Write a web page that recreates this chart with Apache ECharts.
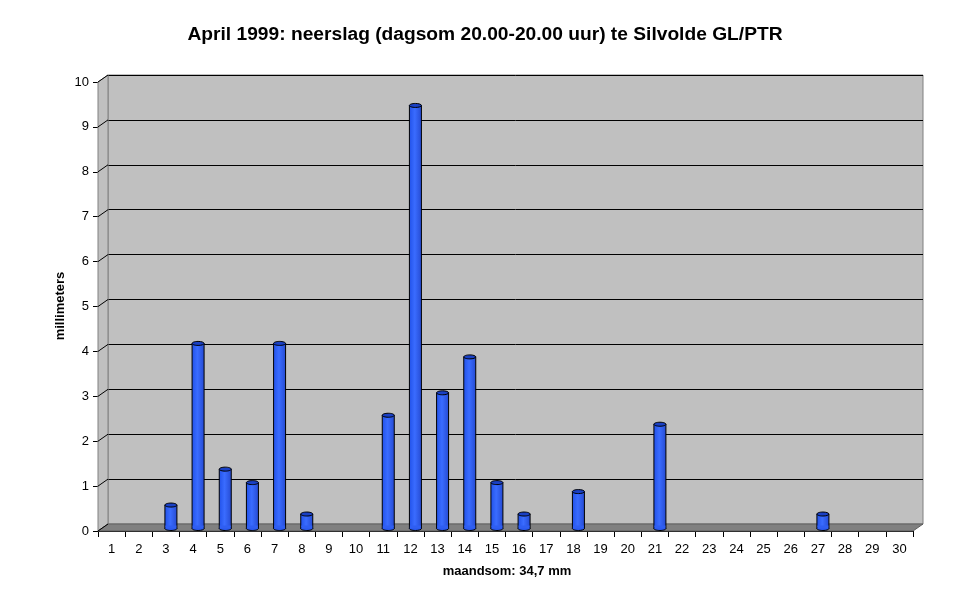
<!DOCTYPE html>
<html><head><meta charset="utf-8">
<script src="https://cdn.jsdelivr.net/npm/echarts@6/dist/echarts.min.js"></script>
<style>html,body{margin:0;padding:0;background:#fff}#c{width:970px;height:604px}</style>
</head><body><div id="c"></div>
<script>
const days = ['1','2','3','4','5','6','7','8','9','10','11','12','13','14','15','16','17','18','19','20','21','22','23','24','25','26','27','28','29','30'];
const rain = [0,0,0.5,4.1,1.3,1.0,4.1,0.3,0,0,2.5,9.4,3.0,3.8,1.0,0.3,0,0.8,0,0,2.3,0,0,0,0,0,0.3,0,0,0];
const yTicks = [0,1,2,3,4,5,6,7,8,9,10];
const titleText = 'April 1999: neerslag (dagsom 20.00-20.00 uur) te Silvolde GL/PTR';
const yName = 'millimeters';
const xName = 'maandsom: 34,7 mm';

const DX = 10, DY = 7;
const F = 'Liberation Sans, Arial, sans-serif';
const chart = echarts.init(document.getElementById('c'));
chart.setOption({
  animation: false,
  backgroundColor: '#fff',
  title: { text: titleText, left: 'center', top: 20, textStyle: { fontFamily: F, fontSize: 19.2, fontWeight: 'bold', color: '#000' } },
  graphic: [
    { type: 'polygon', z: 1, shape: { points: [[98,82],[108,75],[108,524],[98,531]] }, style: { fill: '#c0c0c0', stroke: '#808080', lineWidth: 1 } },
    { type: 'polygon', z: 1, shape: { points: [[98,531],[108,524],[923,524],[913,531]] }, style: { fill: '#808080', stroke: '#606060', lineWidth: 1 } },
    { type: 'text', rotation: Math.PI/2, x: 60, y: 306, style: { text: yName, font: 'bold 13px ' + F, fill: '#000', textAlign: 'center', textVerticalAlign: 'middle' } },
    { type: 'text', x: 507, y: 571, style: { text: xName, font: 'bold 13px ' + F, fill: '#000', textAlign: 'center', textVerticalAlign: 'middle' } }
  ],
  grid: [
    { left: 98, right: 57, top: 82, bottom: 73, show: false },
    { left: 98 + DX, right: 57 - DX, top: 82 - DY, bottom: 73 + DY, show: true, backgroundColor: '#c0c0c0', borderColor: '#808080', borderWidth: 1, z: 0 }
  ],
  xAxis: [
    { type: 'category', gridIndex: 0, data: days, boundaryGap: true,
      axisLine: { show: true, lineStyle: { color: '#000', width: 1 } },
      axisTick: { show: true, interval: 0, length: 6, lineStyle: { color: '#000' } },
      axisLabel: { interval: 0, fontFamily: F, fontSize: 13, color: '#000', margin: 12 } },
    { type: 'category', gridIndex: 1, data: days, show: false }
  ],
  yAxis: [
    { type: 'value', gridIndex: 0, min: 0, max: 10, interval: 1,
      axisLine: { show: true, lineStyle: { color: '#000', width: 1 } },
      axisTick: { show: true, length: 5, lineStyle: { color: '#000' } },
      axisLabel: { fontFamily: F, fontSize: 13, color: '#000', margin: 9 },
      splitLine: { show: false } },
    { type: 'value', gridIndex: 1, min: 0, max: 10, interval: 1,
      axisLine: { show: false }, axisTick: { show: false }, axisLabel: { show: false },
      splitLine: { show: true, lineStyle: { color: '#000', width: 1 } } }
  ],
  series: [
    { type: 'custom', xAxisIndex: 0, yAxisIndex: 0, z: 3, silent: true,
      data: yTicks.map(v => [0, v]),
      renderItem: function (params, api) {
        const p = api.coord([0, api.value(1)]);
        const x0 = p[0] - api.size([1, 0])[0] / 2;
        return { type: 'line', shape: { x1: x0, y1: p[1], x2: x0 + DX, y2: p[1] - DY }, style: { stroke: '#000', lineWidth: 1 } };
      } },
    { type: 'custom', xAxisIndex: 0, yAxisIndex: 0, z: 5, silent: true,
      data: rain.map((v, i) => [i, v]),
      renderItem: function (params, api) {
        const v = api.value(1);
        if (!v) return null;
        const base = api.coord([api.value(0), 0]);
        const top = api.coord([api.value(0), v]);
        const cx = base[0] + DX / 2;
        const w = 12, ry = 2;
        const yb = base[1] - DY / 2 + 1;
        const yt = top[1] - DY / 2;
        return { type: 'group', children: [
          { type: 'rect', shape: { x: cx - w/2, y: yt, width: w, height: yb - yt },
            style: { fill: new echarts.graphic.LinearGradient(0,0,1,0,[{offset:0,color:'#2050e8'},{offset:0.45,color:'#3a6cff'},{offset:1,color:'#2449d0'}]), stroke: '#000', lineWidth: 1 } },
          { type: 'ellipse', shape: { cx: cx, cy: yb, rx: w/2, ry: ry }, style: { fill: '#2a58ec', stroke: '#000', lineWidth: 1 } },
          { type: 'rect', shape: { x: cx - w/2 + 0.5, y: yb - 3, width: w - 1, height: 3 }, style: { fill: '#2f5ef2' } },
          { type: 'ellipse', shape: { cx: cx, cy: yt, rx: w/2, ry: ry }, style: { fill: '#1a40c4', stroke: '#000', lineWidth: 1 } }
        ] };
      } }
  ]
});
</script></body></html>
